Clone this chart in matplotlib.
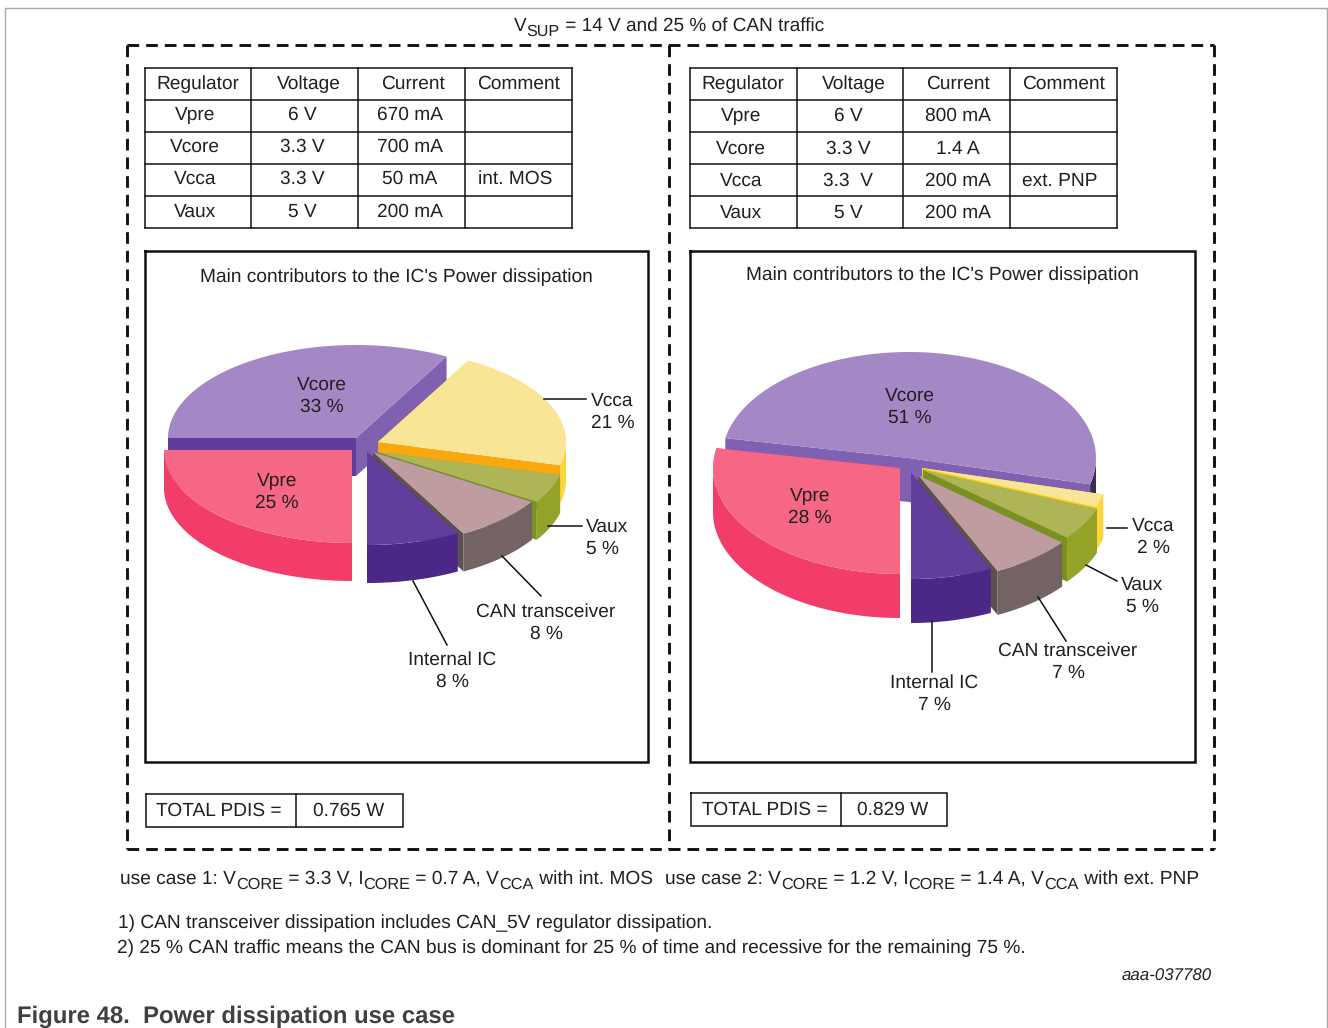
import numpy as np
import matplotlib
matplotlib.use('Agg')
import matplotlib.pyplot as plt

plt.rcParams['font.family'] = ['Liberation Sans', 'DejaVu Sans']
plt.rcParams['text.hinting'] = 'no_hinting'

# data
names = ['Vcore', 'Vpre', 'Internal IC', 'CAN transceiver', 'Vaux', 'Vcca']
shares_1 = [33, 25, 8, 8, 5, 21]
shares_2 = [51, 28, 7, 7, 5, 2]

header = ['Regulator', 'Voltage', 'Current', 'Comment']
regulators = ['Vpre', 'Vcore', 'Vcca', 'Vaux']
voltage_1 = ['6 V', '3.3 V', '3.3 V', '5 V']
current_1 = ['670 mA', '700 mA', '50 mA', '200 mA']
comment_1 = ['', '', 'int. MOS', '']
voltage_2 = ['6 V', '3.3 V', '3.3  V', '5 V']
current_2 = ['800 mA', '1.4 A', '200 mA', '200 mA']
comment_2 = ['', '', 'ext. PNP', '']
total_1 = '0.765 W'
total_2 = '0.829 W'

# colours, same order as names
top_col = ['#A488C6', '#F66785', '#623E9C', '#BE9CA0', '#AEB556', '#F9E596']
rim_col = ['#3C2C58', '#F23C6A', '#4B2885', '#736363', '#94A228', '#FFD63A']
start_col_1 = ['#8060B0', '#F23C6A', '#4B2885', '#5E5050', '#7A9020', '#F9A90F']
start_col_2 = ['#8060B0', '#F23C6A', '#4B2885', '#5E5050', '#7A9020', '#F9CC10']
end_col_1 = ['#623C9A', '#F23C6A', '#4B2885', '#736363', '#94A228', '#FFD63A']
end_col_2 = ['#8060B0', '#F23C6A', '#4B2885', '#736363', '#94A228', '#FFD63A']

TXT = '#231F20'
FS = 13.8

fig = plt.figure(figsize=(13.28, 10.28), dpi=100)
ax = fig.add_axes([0, 0, 1, 1])
ax.set_xlim(0, 1328)
ax.set_ylim(1028, 0)
ax.axis('off')
rend = fig.canvas.get_renderer()


def txt(x, y, s, **kw):
    kw.setdefault('ha', 'center')
    kw.setdefault('va', 'center')
    kw.setdefault('fontsize', FS)
    kw.setdefault('color', TXT)
    return ax.text(x, y + 1, s, **kw)


def sub_line(x, y, parts, fs=FS):
    # odd parts are subscripts, mathtext makes them too small
    for i, p in enumerate(parts):
        is_sub = i % 2 == 1
        t = ax.text(x, y + (4.5 if is_sub else 0), p, ha='left', va='baseline',
                    fontsize=fs * 0.85 if is_sub else fs, color=TXT)
        x += t.get_window_extent(rend).width


def box(x0, y0, x1, y1, lw=1.1, color='#111111'):
    ax.plot([x0, x1, x1, x0, x0], [y0, y0, y1, y1, y0], color=color, lw=lw,
            solid_joinstyle='miter', zorder=5)


def table(col_edges, row_edges, cols, head_x, body_x, row_y):
    for x in col_edges:
        ax.plot([x, x], [row_edges[0], row_edges[-1]], color='#111111', lw=1.1)
    for y in row_edges:
        ax.plot([col_edges[0], col_edges[-1]], [y, y], color='#111111', lw=1.1)
    for j, h in enumerate(header):
        txt(head_x[j], row_y[0], h)
    for j, col in enumerate(cols):
        for i, v in enumerate(col):
            txt(body_x[j], row_y[i + 1], v)


def pie3d(shares, start, apex, rx, ry, depth, start_col, end_col):
    # slice angles come from the shares, counter clockwise
    a0 = start + np.cumsum([0] + shares[:-1]) * 3.6
    a1 = a0 + np.array(shares) * 3.6
    for i in [0, 5, 4, 3, 2, 1]:
        cx, cy = apex[i]
        a, b = a0[i], a1[i]
        t = np.radians(np.linspace(a, b, 80))
        xs = cx + rx * np.cos(t)
        ys = cy - ry * np.sin(t)
        # cut faces
        ax.fill([cx, xs[-1], xs[-1], cx], [cy, ys[-1], ys[-1] + depth, cy + depth],
                color=end_col[i], lw=0, zorder=2)
        ax.fill([cx, xs[0], xs[0], cx], [cy, ys[0], ys[0] + depth, cy + depth],
                color=start_col[i], lw=0, zorder=2)
        # outer wall, only the part turned to the viewer
        for lo, hi in [(-180, 0), (180, 360)]:
            p, q = max(a, lo), min(b, hi)
            if q > p:
                r = np.radians(np.linspace(p, q, 60))
                wx = cx + rx * np.cos(r)
                wy = cy - ry * np.sin(r)
                ax.fill(np.r_[wx, wx[::-1]], np.r_[wy, wy[::-1] + depth],
                        color=rim_col[i], lw=0, zorder=2)
        ax.fill(np.r_[cx, xs], np.r_[cy, ys], color=top_col[i], lw=0, zorder=2)


def labels(shares, pos, aligns):
    for n, s, (x, y), al in zip(names, shares, pos, aligns):
        txt(x, y, f'{n}\n{s} %', ha=al, linespacing=1.33, zorder=6)


def leaders(segs):
    for (x0, y0, x1, y1) in segs:
        ax.plot([x0, x1], [y0, y1], color='#111111', lw=1.1, zorder=6)


# page frame
ax.plot([5, 5, 1327], [1028, 8, 8], color='#A8A8A8', lw=1.0)
ax.plot([1327, 1327], [8, 1028], color='#A8A8A8', lw=1.0)

# dashed frames
dash = dict(color='#111111', lw=2.1, linestyle=(0, (4, 2.4)), zorder=4)
ax.plot([127, 1214], [45, 45], **dash)
ax.plot([127, 1214], [849, 849], **dash)
ax.plot([127, 127], [45, 849], **dash)
ax.plot([1214, 1214], [45, 849], **dash)
ax.plot([669, 669], [45, 849], **dash)

sub_line(514, 31, ['V', 'SUP', ' = 14 V and 25 % of CAN traffic'], fs=13.68)

# tables
table([145, 251, 358, 465, 572], [68, 100, 132, 164, 196, 228],
      [regulators, voltage_1, current_1, comment_1],
      [198, 309, 413, 518], [195, 302, 410, 515], [83, 114, 146, 178, 211])
table([690, 797, 903, 1010, 1117], [68, 100, 132, 164, 196, 228],
      [regulators, voltage_2, current_2, comment_2],
      [743, 854, 958, 1063], [741, 848, 958, 1060], [83, 115, 148, 180, 212])

# chart panels
box(145, 251, 648, 762, lw=1.8)
box(690, 251, 1195, 762, lw=1.8)
txt(396, 276, "Main contributors to the IC's Power dissipation")
txt(942, 274, "Main contributors to the IC's Power dissipation")

# left pie
pie3d(shares_1, 61.2, [(356, 438), (352, 450), (367, 452), (373, 452), (378, 452), (378, 442)],
      188, 93, 38, start_col_1, end_col_1)
leaders([(544, 399, 586, 399), (548, 526, 582, 526), (502, 556, 541, 596), (413, 581, 447, 645)])
labels(shares_1, [(322, 395), (277, 491), (452, 670), (546, 622), (586, 537), (591, 411)],
       ['center', 'center', 'center', 'center', 'left', 'left'])

# right pie
pie3d(shares_2, -14.4, [(909, 458), (900, 468), (911, 473), (918, 475), (923, 470), (922, 468)],
      187, 106, 44, start_col_2, end_col_2)
leaders([(1107, 528, 1127, 528), (1086, 565, 1117, 581), (1038, 597, 1066, 641), (932, 621, 932, 672)])
labels(shares_2, [(910, 406), (810, 506), (934, 693), (1068, 661), (1142, 595), (1153, 536)],
       ['center'] * 6)

# totals
box(146, 794, 403, 827)
ax.plot([296, 296], [794, 827], color='#111111', lw=1.1)
txt(219, 810, 'TOTAL PDIS =')
txt(349, 810, total_1)
box(691, 793, 947, 826)
ax.plot([841, 841], [793, 826], color='#111111', lw=1.1)
txt(765, 809, 'TOTAL PDIS =')
txt(893, 809, total_2)

# notes
sub_line(120, 884, ['use case 1: V', 'CORE', ' = 3.3 V, I', 'CORE', ' = 0.7 A, V', 'CCA', ' with int. MOS'], fs=13.74)
sub_line(665, 884, ['use case 2: V', 'CORE', ' = 1.2 V, I', 'CORE', ' = 1.4 A, V', 'CCA', ' with ext. PNP'], fs=13.77)
txt(118, 922, '1) CAN transceiver dissipation includes CAN_5V regulator dissipation.', ha='left', fontsize=13.79)
txt(117, 947, '2) 25 % CAN traffic means the CAN bus is dominant for 25 % of time and recessive for the remaining 75 %.',
    ha='left', fontsize=13.74)
txt(1212, 975, 'aaa-037780', ha='right', fontsize=12.2, style='italic')
txt(17, 1016, 'Figure 48.  Power dissipation use case', ha='left', fontsize=17.22, fontweight='bold', color='#404040')

fig.savefig('out.png', dpi=100)
